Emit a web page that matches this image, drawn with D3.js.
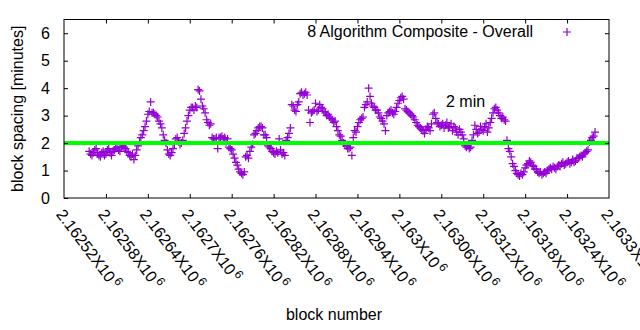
<!DOCTYPE html>
<html>
<head>
<meta charset="utf-8">
<script src="https://cdn.jsdelivr.net/npm/d3@7"></script>
<style>
  body { margin: 0; background: #fff; }
  svg { display: block; font-family: "Liberation Sans", Arial, sans-serif; }
</style>
</head>
<body>
<div id="chart"></div>
<script>
const width = 640;
const height = 330;

// block numbers (x) and block spacing in minutes (y)
const blocks = [
  2162556, 2162558, 2162560, 2162562, 2162564, 2162566, 2162568, 2162570, 2162572, 2162574,
  2162576, 2162578, 2162580, 2162582, 2162584, 2162586, 2162588, 2162590, 2162592, 2162594,
  2162596, 2162598, 2162600, 2162602, 2162604, 2162606, 2162608, 2162610, 2162612, 2162614,
  2162616, 2162618, 2162620, 2162622, 2162624, 2162626, 2162628, 2162630, 2162632, 2162634,
  2162636, 2162638, 2162640, 2162642, 2162644, 2162646, 2162648, 2162650, 2162652, 2162654,
  2162656, 2162658, 2162660, 2162662, 2162664, 2162666, 2162668, 2162670, 2162672, 2162674,
  2162676, 2162678, 2162680, 2162682, 2162684, 2162686, 2162688, 2162690, 2162692, 2162694,
  2162696, 2162698, 2162700, 2162702, 2162704, 2162706, 2162708, 2162710, 2162712, 2162714,
  2162716, 2162718, 2162720, 2162722, 2162724, 2162726, 2162728, 2162730, 2162732, 2162734,
  2162736, 2162738, 2162740, 2162742, 2162744, 2162746, 2162748, 2162750, 2162752, 2162754,
  2162756, 2162758, 2162760, 2162762, 2162764, 2162766, 2162768, 2162770, 2162772, 2162774,
  2162776, 2162778, 2162780, 2162782, 2162784, 2162786, 2162788, 2162790, 2162792, 2162794,
  2162796, 2162798, 2162800, 2162802, 2162804, 2162806, 2162808, 2162810, 2162812, 2162814,
  2162816, 2162818, 2162820, 2162822, 2162824, 2162826, 2162828, 2162830, 2162832, 2162834,
  2162836, 2162838, 2162840, 2162842, 2162844, 2162846, 2162848, 2162850, 2162852, 2162854,
  2162856, 2162858, 2162860, 2162862, 2162864, 2162866, 2162868, 2162870, 2162872, 2162874,
  2162876, 2162878, 2162880, 2162882, 2162884, 2162886, 2162888, 2162890, 2162892, 2162894,
  2162896, 2162898, 2162900, 2162902, 2162904, 2162906, 2162908, 2162910, 2162912, 2162914,
  2162916, 2162918, 2162920, 2162922, 2162924, 2162926, 2162928, 2162930, 2162932, 2162934,
  2162936, 2162938, 2162940, 2162942, 2162944, 2162946, 2162948, 2162950, 2162952, 2162954,
  2162956, 2162958, 2162960, 2162962, 2162964, 2162966, 2162968, 2162970, 2162972, 2162974,
  2162976, 2162978, 2162980, 2162982, 2162984, 2162986, 2162988, 2162990, 2162992, 2162994,
  2162996, 2162998, 2163000, 2163002, 2163004, 2163006, 2163008, 2163010, 2163012, 2163014,
  2163016, 2163018, 2163020, 2163022, 2163024, 2163026, 2163028, 2163030, 2163032, 2163034,
  2163036, 2163038, 2163040, 2163042, 2163044, 2163046, 2163048, 2163050, 2163052, 2163054,
  2163056, 2163058, 2163060, 2163062, 2163064, 2163066, 2163068, 2163070, 2163072, 2163074,
  2163076, 2163078, 2163080, 2163082, 2163084, 2163086, 2163088, 2163090, 2163092, 2163094,
  2163096, 2163098, 2163100, 2163102, 2163104, 2163106, 2163108, 2163110, 2163112, 2163114,
  2163116, 2163118, 2163120, 2163122, 2163124, 2163126, 2163128, 2163130, 2163132, 2163134,
  2163136, 2163138, 2163140, 2163142, 2163144, 2163146, 2163148, 2163150, 2163152, 2163154,
  2163156, 2163158, 2163160, 2163162, 2163164, 2163166, 2163168, 2163170, 2163172, 2163174,
  2163176, 2163178, 2163180, 2163182, 2163184, 2163186, 2163188, 2163190, 2163192, 2163194,
  2163196, 2163198, 2163200, 2163202, 2163204, 2163206, 2163208, 2163210, 2163212, 2163214,
  2163216, 2163218, 2163220, 2163222, 2163224, 2163226, 2163228, 2163230, 2163232, 2163234,
  2163236, 2163238, 2163240, 2163242, 2163244, 2163246, 2163248, 2163250, 2163252, 2163254,
  2163256, 2163258, 2163260, 2163262, 2163264, 2163266, 2163268, 2163270, 2163272, 2163274,
  2163276, 2163278, 2163280
];

const spacing = [
  1.7, 1.6, 1.55, 1.65, 1.75, 1.8, 1.6, 1.55, 1.5, 1.65,
  1.7, 1.55, 1.6, 1.75, 1.8, 1.65, 1.55, 1.7, 1.75, 1.8,
  1.85, 1.75, 1.7, 1.85, 1.9, 1.85, 1.8, 1.7, 1.65, 1.55,
  1.5, 1.6, 1.4, 1.55, 1.75, 1.9, 2.05, 2.2, 2.3, 2.45,
  2.6, 2.8, 3.05, 3.15, 3.5, 3.1, 3.1, 3.05, 3.0, 2.95,
  2.8, 2.7, 2.55, 2.3, 2.1, 2.0, 1.75, 1.6, 1.55, 1.65,
  1.8, 1.95, 2.15, 2.2, 2.05, 1.95, 2.0, 2.1, 2.35, 2.55,
  2.8, 3.0, 3.2, 3.3, 3.3, 3.2, 3.35, 3.3, 3.95, 3.9,
  3.6, 3.35, 3.25, 3.1, 2.85, 2.75, 2.65, 2.7, 2.2, 2.15,
  2.15, 2.2, 1.8, 2.2, 2.2, 2.25, 2.15, 2.2, 2.05, 2.15,
  1.85, 1.8, 1.75, 1.6, 1.45, 1.3, 1.2, 1.05, 0.95, 0.9,
  0.85, 0.95, 1.5, 1.55, 1.45, 1.7, 1.85, 1.95, 2.3, 2.35,
  2.45, 2.55, 2.6, 2.6, 2.55, 2.3, 2.3, 2.2, 1.9, 1.85,
  1.8, 1.7, 1.65, 1.6, 1.7, 1.65, 2.15, 1.75, 1.6, 1.65,
  1.55, 2.1, 2.2, 2.35, 2.55, 3.4, 3.35, 3.2, 3.15, 3.4,
  3.5, 3.8, 3.85, 3.75, 3.8, 3.85, 3.75, 3.2, 2.75, 3.1,
  3.15, 3.2, 3.45, 3.15, 3.2, 3.4, 3.3, 3.25, 3.15, 3.1,
  3.0, 3.05, 2.95, 2.9, 2.85, 2.75, 2.8, 2.6, 2.45, 2.3,
  2.25, 2.1, 2.0, 1.95, 1.9, 1.8, 1.8, 1.85, 1.55, 2.2,
  2.45, 2.4, 2.6, 2.75, 2.85, 2.9, 2.95, 3.3, 3.4, 3.5,
  4.0, 3.7, 3.45, 3.35, 3.3, 3.2, 3.2, 3.1, 2.95, 2.9,
  2.8, 2.7, 2.45, 3.0, 3.1, 3.15, 3.2, 3.1, 3.05, 3.15,
  3.3, 3.45, 3.55, 3.65, 3.7, 3.6, 3.25, 3.2, 3.15, 3.1,
  3.05, 3.0, 2.95, 2.85, 2.75, 2.65, 2.6, 2.55, 2.5, 2.45,
  2.35, 2.5, 2.6, 2.55, 2.45, 2.7, 3.05, 3.1, 2.9, 2.75,
  2.7, 2.6, 2.65, 2.7, 2.55, 2.65, 2.75, 2.55, 2.6, 2.7,
  2.45, 2.6, 2.55, 2.4, 2.3, 2.5, 2.4, 2.3, 2.15, 1.9,
  1.85, 1.9, 1.8, 1.85, 2.1, 2.3, 2.65, 2.5, 2.35, 2.4,
  2.6, 2.5, 2.45, 2.6, 2.7, 2.4, 2.55, 2.75, 2.9, 3.1,
  3.25, 3.3, 3.2, 3.1, 3.0, 2.9, 2.95, 2.85, 2.8, 2.1,
  1.8, 1.7, 1.5, 1.25, 1.15, 1.0, 0.9, 0.85, 0.8, 0.9,
  0.85, 0.95, 1.1, 1.2, 1.25, 1.35, 1.3, 1.2, 1.15, 1.05,
  1.05, 0.95, 0.9, 0.95, 0.85, 0.9, 0.95, 0.9, 1.0, 1.05,
  1.1, 1.05, 1.15, 1.1, 1.05, 1.15, 1.2, 1.15, 1.25, 1.3,
  1.2, 1.25, 1.3, 1.35, 1.25, 1.3, 1.4, 1.3, 1.35, 1.45,
  1.45, 1.5, 1.55, 1.5, 1.6, 1.65, 1.7, 1.75, 2.05, 2.1,
  2.2, 2.25, 2.4
];

// x tick mantissas (the label reads "<m>X10^6")
const xTickValues = [2162520, 2162580, 2162640, 2162700, 2162760, 2162820, 2162880,
  2162940, 2163000, 2163060, 2163120, 2163180, 2163240, 2163300];
const xTickLabels = ['2.16252', '2.16258', '2.16264', '2.1627', '2.16276', '2.16282', '2.16288',
  '2.16294', '2.163', '2.16306', '2.16312', '2.16318', '2.16324', '2.1633'];
const yTickValues = [0, 1, 2, 3, 4, 5, 6];

const targetLine = 2; // the "2 min" reference line
const seriesName = '8 Algorithm Composite - Overall';

const data = blocks.map((b, i) => ({ block: b, value: spacing[i] }));

const margin = { top: 19.5, right: 31, bottom: 132, left: 64 };
const area = {
  left: margin.left,
  right: width - margin.right,
  top: margin.top,
  bottom: height - margin.bottom,
};

const purple = '#9400d3';
const plusPath = 'M-4,0H4M0,-4V4';

const svg = d3.select('#chart')
  .append('svg')
  .attr('width', width)
  .attr('height', height);

const xScale = d3.scaleLinear()
  .domain([2162520, 2163300])
  .range([area.left, area.right]);

const yScale = d3.scaleLinear()
  .domain([0, 6.5])
  .range([area.bottom, area.top]);

// points
svg.append('g')
  .selectAll('path')
  .data(data)
  .join('path')
  .attr('transform', d => `translate(${xScale(d.block)},${yScale(d.value)})`)
  .attr('d', plusPath)
  .attr('fill', 'none')
  .attr('stroke', purple)
  .attr('stroke-width', 1.2);

// green 2 minute line
svg.append('line')
  .attr('x1', area.left)
  .attr('x2', area.right)
  .attr('y1', yScale(targetLine))
  .attr('y2', yScale(targetLine))
  .attr('stroke', '#00ff00')
  .attr('stroke-width', 4);

// axes (ticks inward, mirrored on opposite sides)
const tick = 4;
const axisLeft = d3.axisLeft(yScale).tickValues(yTickValues).tickFormat(d3.format('d'))
  .tickSizeInner(-tick).tickSizeOuter(0).tickPadding(14);
const axisRight = d3.axisRight(yScale).tickValues(yTickValues.slice(1)).tickSizeInner(-tick).tickSizeOuter(0).tickFormat('');
const axisBottom = d3.axisBottom(xScale).tickValues(xTickValues.slice(1, -1)).tickSizeInner(-tick).tickSizeOuter(0).tickFormat('');
const axisTop = d3.axisTop(xScale).tickValues(xTickValues.slice(1, -1)).tickSizeInner(-tick).tickSizeOuter(0).tickFormat('');

svg.append('g').attr('transform', `translate(${area.left},0)`).call(axisLeft)
  .call(g => g.selectAll('text').attr('font-size', 16).attr('fill', '#000').attr('font-family', null));
svg.append('g').attr('transform', `translate(${area.right},0)`).call(axisRight);
svg.append('g').attr('transform', `translate(0,${area.bottom})`).call(axisBottom);
svg.append('g').attr('transform', `translate(0,${area.top})`).call(axisTop);
svg.selectAll('.domain').remove();
svg.selectAll('.tick line').attr('stroke', '#000');

// border
svg.append('rect')
  .attr('x', area.left)
  .attr('y', area.top)
  .attr('width', area.right - area.left)
  .attr('height', area.bottom - area.top)
  .attr('fill', 'none')
  .attr('stroke', '#000')
  .attr('stroke-width', 1);

// rotated x tick labels
const xLabels = svg.append('g')
  .selectAll('text')
  .data(xTickValues)
  .join('text')
  .attr('transform', d => `translate(${xScale(d) - 4},${area.bottom + 13}) rotate(53)`)
  .attr('font-size', 16)
  .attr('dy', '0.35em');
xLabels.append('tspan').text((d, i) => xTickLabels[i] + 'X10');
xLabels.append('tspan').attr('font-size', 12).attr('dx', 2).attr('dy', -6).text('6');

// axis titles
svg.append('text')
  .attr('transform', `translate(23,${(area.top + area.bottom) / 2}) rotate(-90)`)
  .attr('text-anchor', 'middle')
  .attr('font-size', 16)
  .text('block spacing [minutes]');

svg.append('text')
  .attr('x', 334)
  .attr('y', 320)
  .attr('text-anchor', 'middle')
  .attr('font-size', 16)
  .text('block number');

// key
svg.append('text')
  .attr('x', 533)
  .attr('y', 37)
  .attr('text-anchor', 'end')
  .attr('font-size', 16)
  .text(seriesName);

svg.append('path')
  .attr('transform', 'translate(567,32)')
  .attr('d', plusPath)
  .attr('fill', 'none')
  .attr('stroke', purple)
  .attr('stroke-width', 1.2);

// label for the green line
svg.append('text')
  .attr('x', 446)
  .attr('y', 107)
  .attr('font-size', 16)
  .text('2 min');
</script>
</body>
</html>
